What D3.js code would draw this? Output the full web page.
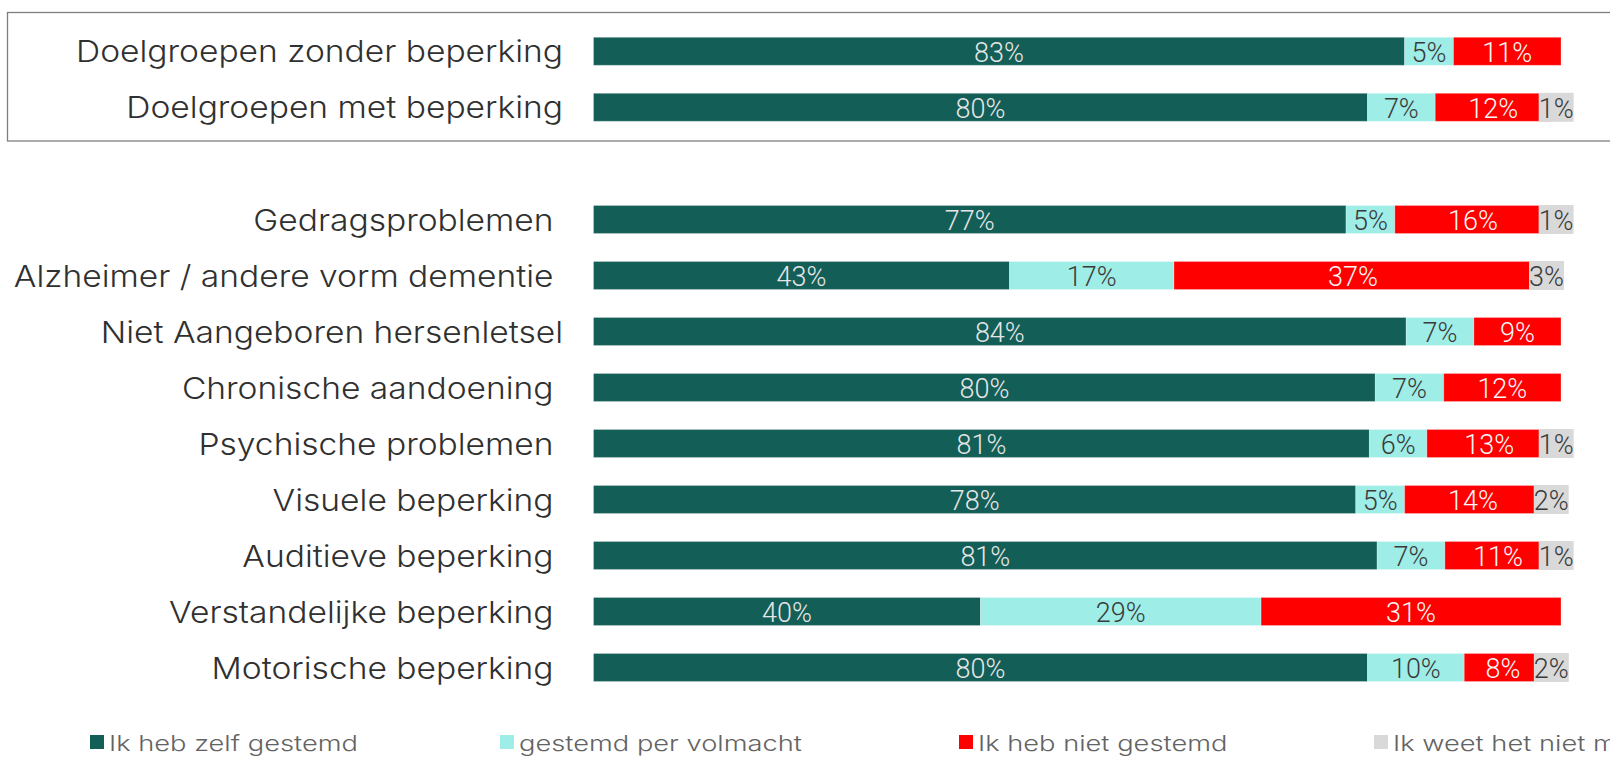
<!DOCTYPE html>
<html><head><meta charset="utf-8">
<script src="https://cdn.jsdelivr.net/npm/d3@7"></script>
<style>html,body{margin:0;padding:0;background:#fff;overflow:hidden}</style>
</head><body><svg id="c" width="1610" height="758"></svg>
<script>
// ---- data ----
const topCategories = ["Doelgroepen zonder beperking", "Doelgroepen met beperking"];
const groupCategories = ["Gedragsproblemen ", "Alzheimer / andere vorm dementie ", "Niet Aangeboren hersenletsel",
  "Chronische aandoening ", "Psychische problemen ", "Visuele beperking ", "Auditieve beperking ",
  "Verstandelijke beperking ", "Motorische beperking "];
const seriesNames = ["Ik heb zelf gestemd", "gestemd per volmacht", "Ik heb niet gestemd", "Ik weet het niet meer"];
const zelf     = [83, 80, 77, 43, 84, 80, 81, 78, 81, 40, 80];
const volmacht = [ 5,  7,  5, 17,  7,  7,  6,  5,  7, 29, 10];
const niet     = [11, 12, 16, 37,  9, 12, 13, 14, 11, 31,  8];
const weetNiet = [ 0,  1,  1,  3,  0,  0,  1,  2,  1,  0,  2];

// ---- styles ----
const colors = ["#135E57", "#9EEDE6", "#FF0000", "#D9D9D9"];
const labelColors = ["#e6e6e6", "#3a3a3a", "#f7f7f7", "#3a3a3a"];
const keys = ["zelf", "volmacht", "niet", "weetNiet"];

const allCats = topCategories.concat(groupCategories);
const rows = allCats.map((c, i) => ({cat: c, zelf: zelf[i], volmacht: volmacht[i], niet: niet[i], weetNiet: weetNiet[i], top: i < topCategories.length}));

const svg = d3.select("#c");
const x = d3.scaleLinear().domain([0, 1]).range([593.5, 1561]);
const yTop = d3.scaleBand().domain(topCategories).range([23.3, 135.3]).paddingInner(0.5).paddingOuter(0.25);
const yBot = d3.scaleBand().domain(groupCategories).range([191.5, 695.5]).paddingInner(0.5).paddingOuter(0.25);
const yOf = d => d.top ? yTop(d.cat) : yBot(d.cat);
const bw = yTop.bandwidth();

// frame around top group
svg.append("rect").attr("x", 7.5).attr("y", 12.5).attr("width", 1620).attr("height", 128.5)
  .attr("fill", "none").attr("stroke", "#7f7f7f").attr("stroke-width", 1.3);

// 100% stacked
const stack = d3.stack().keys(keys).offset(d3.stackOffsetExpand);
const series = stack(rows);

const valueFont = "Roboto, sans-serif";
// bars
series.forEach((s, si) => {
  svg.append("g").selectAll("rect").data(s.filter((seg, i) => rows[i][keys[si]] > 0)).join("rect")
    .attr("x", seg => x(seg[0])).attr("y", seg => yOf(seg.data))
    .attr("width", seg => x(seg[1]) - x(seg[0])).attr("height", bw)
    .attr("fill", colors[si]).attr("stroke", "#ffffff").attr("stroke-opacity", 0.25).attr("stroke-width", 1);
});
// labels (grey series label has a filled box centred on its segment)
series.forEach((s, si) => {
  const g = svg.append("g");
  s.forEach((seg, i) => {
    const d = rows[i];
    const v = d[keys[si]];
    if (!v) return;
    const cx = (x(seg[0]) + x(seg[1])) / 2;
    const y0 = yOf(d);
    const t = g.append("text").text(v + "%")
      .attr("font-family", valueFont).attr("font-weight", 300).attr("font-size", 27)
      .attr("fill", labelColors[si]).attr("text-anchor", "middle").attr("dominant-baseline", "central")
      .attr("x", cx).attr("y", y0 + bw / 2 + 1.5);
    if (si === 3) {
      const tw = t.node().getComputedTextLength();
      g.insert("rect", "text").attr("x", cx - tw / 2).attr("y", y0 - 0.5).attr("width", tw).attr("height", bw + 1)
        .attr("fill", colors[si]);
    }
  });
});

// category labels
const catFont = "Inter, 'Open Sans', sans-serif";
const ref = svg.append("text").text(topCategories[0]).attr("font-family", catFont)
  .attr("font-size", 30).attr("font-weight", 300);
const k = 487 / ref.node().getComputedTextLength();
ref.remove();
rows.forEach(d => {
  const t = svg.append("text").text(d.cat)
    .style("white-space", "pre")
    .attr("font-family", catFont).attr("font-size", 30).attr("font-weight", 300)
    .attr("fill", "#303030").attr("text-anchor", "end").attr("dominant-baseline", "central")
    .attr("x", 563).attr("y", yOf(d) + bw / 2);
  const L = t.node().getComputedTextLength();
  t.attr("textLength", L * k).attr("lengthAdjust", "spacingAndGlyphs");
});

// legend
const legX = [90, 500, 959, 1374];
const legY = 742;
const lref = svg.append("text").text(seriesNames[0]).attr("font-family", catFont)
  .attr("font-size", 22).attr("font-weight", 300);
const k2 = 249 / lref.node().getComputedTextLength();
lref.remove();
seriesNames.forEach((n, i) => {
  svg.append("rect").attr("x", legX[i]).attr("y", legY - 7).attr("width", 14).attr("height", 14).attr("fill", colors[i]);
  const t = svg.append("text").text(n).attr("font-family", catFont).attr("font-size", 22).attr("font-weight", 300)
    .attr("fill", "#636363").attr("dominant-baseline", "central").attr("x", legX[i] + 19).attr("y", legY + 1);
  const L = t.node().getComputedTextLength();
  t.attr("textLength", L * k2).attr("lengthAdjust", "spacingAndGlyphs");
});
</script>
</body></html>
